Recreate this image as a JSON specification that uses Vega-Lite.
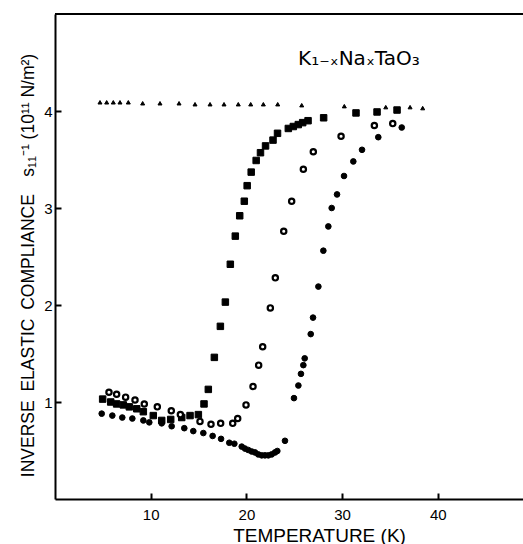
{
  "$schema": "https://vega.github.io/schema/vega-lite/v6.json",
  "autosize": {"type": "none"},
  "width": 468,
  "height": 485,
  "padding": {"left": 55, "top": 14, "right": 0, "bottom": 45},
  "background": "white",
  "config": {
    "view": {"stroke": null},
    "font": "Liberation Sans",
    "axis": {
      "domainColor": "black",
      "domainWidth": 2,
      "tickColor": "black",
      "tickWidth": 2,
      "tickSize": -6,
      "labelColor": "black",
      "labelFont": "Liberation Sans",
      "labelFontSize": 15,
      "titleColor": "black",
      "titleFont": "Liberation Sans",
      "titleFontWeight": "normal",
      "grid": false
    }
  },
  "datasets": {
    "pts": [
      {"s": "tri", "T": 4.70, "Y": 4.09}, {"s": "tri", "T": 5.40, "Y": 4.09}, {"s": "tri", "T": 6.09, "Y": 4.09},
      {"s": "tri", "T": 6.79, "Y": 4.09}, {"s": "tri", "T": 7.66, "Y": 4.09}, {"s": "tri", "T": 9.16, "Y": 4.08},
      {"s": "tri", "T": 10.97, "Y": 4.08}, {"s": "tri", "T": 12.96, "Y": 4.08}, {"s": "tri", "T": 14.63, "Y": 4.07},
      {"s": "tri", "T": 16.20, "Y": 4.07}, {"s": "tri", "T": 17.66, "Y": 4.07}, {"s": "tri", "T": 19.15, "Y": 4.07},
      {"s": "tri", "T": 20.45, "Y": 4.07}, {"s": "tri", "T": 21.77, "Y": 4.07}, {"s": "tri", "T": 23.27, "Y": 4.07},
      {"s": "tri", "T": 25.78, "Y": 4.06}, {"s": "tri", "T": 30.23, "Y": 4.05}, {"s": "tri", "T": 34.56, "Y": 4.04},
      {"s": "tri", "T": 37.10, "Y": 4.04}, {"s": "tri", "T": 38.42, "Y": 4.03},

      {"s": "sq", "T": 4.98, "Y": 1.03}, {"s": "sq", "T": 5.82, "Y": 1.00}, {"s": "sq", "T": 6.44, "Y": 0.98},
      {"s": "sq", "T": 7.14, "Y": 0.97}, {"s": "sq", "T": 7.77, "Y": 0.95}, {"s": "sq", "T": 8.54, "Y": 0.93},
      {"s": "sq", "T": 9.23, "Y": 0.90}, {"s": "sq", "T": 10.27, "Y": 0.86}, {"s": "sq", "T": 11.15, "Y": 0.81},
      {"s": "sq", "T": 12.09, "Y": 0.82}, {"s": "sq", "T": 13.24, "Y": 0.84}, {"s": "sq", "T": 14.11, "Y": 0.86},
      {"s": "sq", "T": 14.98, "Y": 0.87}, {"s": "sq", "T": 15.57, "Y": 0.98}, {"s": "sq", "T": 16.02, "Y": 1.13},
      {"s": "sq", "T": 16.65, "Y": 1.46}, {"s": "sq", "T": 17.28, "Y": 1.78}, {"s": "sq", "T": 17.80, "Y": 2.03},
      {"s": "sq", "T": 18.32, "Y": 2.42}, {"s": "sq", "T": 18.84, "Y": 2.71}, {"s": "sq", "T": 19.30, "Y": 2.92},
      {"s": "sq", "T": 19.78, "Y": 3.07}, {"s": "sq", "T": 20.08, "Y": 3.23}, {"s": "sq", "T": 20.50, "Y": 3.37},
      {"s": "sq", "T": 21.02, "Y": 3.49}, {"s": "sq", "T": 21.47, "Y": 3.57}, {"s": "sq", "T": 22.00, "Y": 3.64},
      {"s": "sq", "T": 22.78, "Y": 3.70}, {"s": "sq", "T": 23.25, "Y": 3.77}, {"s": "sq", "T": 24.38, "Y": 3.82},
      {"s": "sq", "T": 24.90, "Y": 3.84}, {"s": "sq", "T": 25.42, "Y": 3.86}, {"s": "sq", "T": 25.88, "Y": 3.88},
      {"s": "sq", "T": 26.44, "Y": 3.90}, {"s": "sq", "T": 28.07, "Y": 3.93}, {"s": "sq", "T": 31.45, "Y": 3.98},
      {"s": "sq", "T": 33.65, "Y": 3.99}, {"s": "sq", "T": 35.74, "Y": 4.01},

      {"s": "open", "T": 5.64, "Y": 1.10}, {"s": "open", "T": 6.44, "Y": 1.08}, {"s": "open", "T": 7.38, "Y": 1.05},
      {"s": "open", "T": 8.36, "Y": 1.02}, {"s": "open", "T": 9.33, "Y": 0.98}, {"s": "open", "T": 10.69, "Y": 0.95},
      {"s": "open", "T": 12.15, "Y": 0.91}, {"s": "open", "T": 13.10, "Y": 0.87}, {"s": "open", "T": 15.15, "Y": 0.80},
      {"s": "open", "T": 16.30, "Y": 0.77}, {"s": "open", "T": 17.31, "Y": 0.78}, {"s": "open", "T": 18.57, "Y": 0.78},
      {"s": "open", "T": 19.09, "Y": 0.83}, {"s": "open", "T": 19.96, "Y": 0.97}, {"s": "open", "T": 20.69, "Y": 1.16},
      {"s": "open", "T": 21.28, "Y": 1.38}, {"s": "open", "T": 21.70, "Y": 1.57}, {"s": "open", "T": 22.50, "Y": 1.97},
      {"s": "open", "T": 23.02, "Y": 2.28}, {"s": "open", "T": 23.90, "Y": 2.76}, {"s": "open", "T": 24.73, "Y": 3.07},
      {"s": "open", "T": 25.95, "Y": 3.40}, {"s": "open", "T": 26.99, "Y": 3.58}, {"s": "open", "T": 29.89, "Y": 3.74},
      {"s": "open", "T": 33.37, "Y": 3.85}, {"s": "open", "T": 35.29, "Y": 3.87},

      {"s": "dot", "T": 4.88, "Y": 0.88}, {"s": "dot", "T": 5.99, "Y": 0.86}, {"s": "dot", "T": 7.03, "Y": 0.84},
      {"s": "dot", "T": 8.08, "Y": 0.83}, {"s": "dot", "T": 9.23, "Y": 0.81}, {"s": "dot", "T": 9.85, "Y": 0.79},
      {"s": "dot", "T": 11.15, "Y": 0.78}, {"s": "dot", "T": 12.19, "Y": 0.75}, {"s": "dot", "T": 13.51, "Y": 0.73},
      {"s": "dot", "T": 14.45, "Y": 0.70}, {"s": "dot", "T": 15.50, "Y": 0.68}, {"s": "dot", "T": 16.47, "Y": 0.65},
      {"s": "dot", "T": 17.35, "Y": 0.62}, {"s": "dot", "T": 18.21, "Y": 0.58}, {"s": "dot", "T": 18.74, "Y": 0.57},
      {"s": "dot", "T": 19.51, "Y": 0.54}, {"s": "dot", "T": 19.85, "Y": 0.52}, {"s": "dot", "T": 20.20, "Y": 0.505},
      {"s": "dot", "T": 20.55, "Y": 0.49}, {"s": "dot", "T": 20.90, "Y": 0.48}, {"s": "dot", "T": 21.24, "Y": 0.46},
      {"s": "dot", "T": 21.60, "Y": 0.45}, {"s": "dot", "T": 21.94, "Y": 0.45}, {"s": "dot", "T": 22.29, "Y": 0.45},
      {"s": "dot", "T": 22.64, "Y": 0.46}, {"s": "dot", "T": 22.99, "Y": 0.48}, {"s": "dot", "T": 23.23, "Y": 0.495},
      {"s": "dot", "T": 24.03, "Y": 0.60}, {"s": "dot", "T": 24.97, "Y": 1.04}, {"s": "dot", "T": 25.43, "Y": 1.17},
      {"s": "dot", "T": 25.70, "Y": 1.29}, {"s": "dot", "T": 25.95, "Y": 1.38}, {"s": "dot", "T": 26.09, "Y": 1.45},
      {"s": "dot", "T": 26.72, "Y": 1.70}, {"s": "dot", "T": 26.96, "Y": 1.87}, {"s": "dot", "T": 27.52, "Y": 2.19},
      {"s": "dot", "T": 28.04, "Y": 2.56}, {"s": "dot", "T": 28.56, "Y": 2.81}, {"s": "dot", "T": 28.91, "Y": 3.00},
      {"s": "dot", "T": 29.47, "Y": 3.14}, {"s": "dot", "T": 30.20, "Y": 3.33}, {"s": "dot", "T": 31.17, "Y": 3.48},
      {"s": "dot", "T": 32.08, "Y": 3.60}, {"s": "dot", "T": 33.78, "Y": 3.73}, {"s": "dot", "T": 36.23, "Y": 3.83}
    ],
    "one": [{"label": "K₁₋ₓNaₓTaO₃"}]
  },
  "layer": [
    {
      "data": {"name": "pts"},
      "mark": {"type": "point", "filled": true, "stroke": "black", "opacity": 1},
      "encoding": {
        "x": {
          "field": "T", "type": "quantitative",
          "scale": {"domain": [0, 48.9], "nice": false, "zero": false},
          "axis": {
            "values": [10, 20, 30, 40],
            "format": "d",
            "labelPadding": 14,
            "labelBaseline": "top",
            "title": "TEMPERATURE (K)",
            "titleFontSize": 19,
            "titleX": 264,
            "titleY": 42,
            "titleAnchor": null,
            "titleAlign": "center",
            "titleBaseline": "alphabetic"
          }
        },
        "y": {
          "field": "Y", "type": "quantitative",
          "scale": {"domain": [0, 5], "nice": false, "zero": false},
          "axis": {
            "values": [1, 2, 3, 4],
            "format": "d",
            "labelPadding": 9,
            "title": "INVERSE\u2002ELASTIC\u2002COMPLIANCE\u2002\u2002s₁₁⁻¹ (10¹¹ N/m²)",
            "titleFontSize": 17.5,
            "titleAngle": 270,
            "titleX": -27,
            "titleY": 251,
            "titleAlign": "center",
            "titleBaseline": "middle"
          }
        },
        "shape": {
          "field": "s", "type": "nominal",
          "scale": {"domain": ["tri", "sq", "open", "dot"], "range": ["triangle-up", "square", "circle", "circle"]},
          "legend": null
        },
        "fill": {
          "field": "s", "type": "nominal",
          "scale": {"domain": ["tri", "sq", "open", "dot"], "range": ["black", "black", "white", "black"]},
          "legend": null
        },
        "size": {
          "field": "s", "type": "nominal",
          "scale": {"type": "ordinal", "domain": ["tri", "sq", "open", "dot"], "range": [16, 42, 28, 32]},
          "legend": null
        },
        "strokeWidth": {
          "field": "s", "type": "nominal",
          "scale": {"type": "ordinal", "domain": ["tri", "sq", "open", "dot"], "range": [1, 1, 2.2, 1]},
          "legend": null
        }
      }
    },
    {
      "data": {"name": "one"},
      "mark": {"type": "rule", "color": "black", "strokeWidth": 2},
      "encoding": {
        "x": {"datum": 0},
        "x2": {"datum": 48.9},
        "y": {"datum": 5}
      }
    },
    {
      "data": {"name": "one"},
      "mark": {"type": "text", "align": "left", "baseline": "alphabetic", "fontSize": 20, "font": "DejaVu Sans", "color": "black"},
      "encoding": {
        "x": {"datum": 25.4},
        "y": {"datum": 4.47},
        "text": {"field": "label", "type": "nominal"}
      }
    }
  ]
}
